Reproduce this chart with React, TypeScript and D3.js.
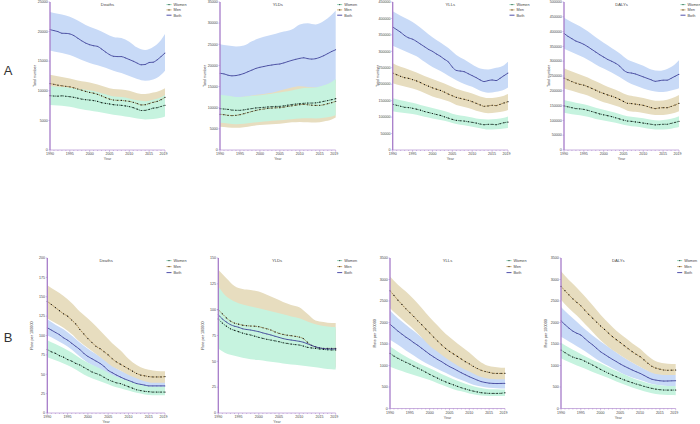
import React from 'react';
import * as d3 from 'd3';

const years = [1990,1991,1992,1993,1994,1995,1996,1997,1998,1999,2000,2001,2002,2003,2004,2005,2006,2007,2008,2009,2010,2011,2012,2013,2014,2015,2016,2017,2018,2019];
const bandYears = [1990,1992,1994,1996,1998,2000,2002,2004,2006,2008,2010,2012,2014,2016,2018,2019];
const xTickLabels = [1990,1995,2000,2005,2010,2015,2019];
const seriesNames = ['Women','Men','Both'];

// A1 Deaths (total number)
const a1BothMean = [20330,20170,20000,19720,19700,19610,19330,18890,18440,18060,17780,17610,17500,17060,16560,16110,15830,15780,15780,15560,15280,15000,14670,14390,14440,14780,14830,15220,15780,16390];
const a1BothHi = [23300,23000,22700,22200,21500,20800,20300,19700,19100,18900,18300,17300,16900,17400,18600,19600];
const a1BothLo = [16800,16500,16200,15800,15200,14700,14300,13900,13400,13000,12500,12000,11700,11900,12700,13400];
const a1MenMean = [11220,11100,10950,10850,10750,10670,10500,10300,10100,9900,9720,9600,9400,9150,8850,8610,8450,8400,8380,8300,8220,8050,7850,7610,7650,7850,8060,8200,8500,8890];
const a1MenHi = [12700,12450,12200,11900,11600,11400,11050,10650,10300,10200,10000,9600,9450,9700,10100,10450];
const a1MenLo = [9700,9500,9300,9050,8700,8350,8050,7650,7300,7200,7000,6700,6500,6700,7000,7400];
const a1WomenMean = [9170,9120,9100,9150,9080,9000,8900,8750,8600,8500,8440,8350,8200,8000,7880,7780,7650,7600,7550,7450,7330,7150,6900,6670,6700,6850,7060,7150,7350,7560];
const a1WomenHi = [10830,10700,10600,10450,10250,10100,9800,9400,9050,8950,8720,8400,8250,8500,8900,9280];
const a1WomenLo = [7600,7500,7400,7200,6900,6670,6450,6200,5950,5800,5560,5300,5170,5250,5450,5670];

// A2 YLDs (total number)
const a2BothMean = [18150,18000,17700,17530,17600,17800,18100,18500,18900,19300,19560,19750,19950,20100,20250,20340,20600,20900,21200,21450,21670,21800,21600,21500,21600,21900,22300,22800,23300,23710];
const a2BothHi = [25000,24700,24500,24700,25700,26500,27000,27500,28000,28500,29700,30000,29700,30500,32000,33000];
const a2BothLo = [12500,12300,12200,12300,12500,12700,12900,13100,13400,13700,14000,14100,14100,14500,15300,15800];
const a2MenMean = [8450,8350,8200,8140,8200,8350,8600,8850,9100,9350,9550,9700,9830,9920,9980,10020,10150,10300,10450,10600,10720,10800,10700,10600,10550,10560,10700,10950,11200,11500];
const a2MenHi = [12900,12700,12500,12600,12900,13100,13400,13800,14300,14800,15100,14900,14800,15200,16000,16600];
const a2MenLo = [5500,5350,5250,5400,5700,5900,6050,6150,6350,6550,6650,6550,6500,6750,7200,7670];
const a2WomenMean = [9780,9700,9600,9450,9400,9390,9500,9650,9800,9950,10020,10100,10180,10250,10300,10330,10450,10600,10750,10880,10950,11050,11100,11110,11150,11300,11500,11700,11900,12130];
const a2WomenHi = [13070,12800,12550,12600,12800,12950,13200,13500,13800,14100,14500,14700,14800,15300,16100,16800];
const a2WomenLo = [6420,6250,6100,6200,6450,6650,6800,6950,7100,7250,7430,7500,7450,7600,7950,8220];

// A3 YLLs (total number)
const a3BothMean = [374000,366000,358000,348000,341000,337000,330000,322000,314000,306000,300000,292000,285000,276000,268000,252000,242000,240000,238000,232000,226000,220000,213000,208000,211000,213000,211000,218000,226000,234000];
const a3BothHi = [422000,408000,396000,381000,362000,343000,327000,310000,289000,275000,260000,248000,245000,250000,258000,268000];
const a3BothLo = [317000,306000,296000,285000,268000,252000,240000,226000,212000,201000,192000,180000,174000,177000,183000,190000];
const a3MenMean = [234000,229000,224000,220000,218000,214000,210000,205000,199000,194000,189000,185000,181000,176000,170000,165000,160000,157000,154000,151000,147000,142000,137000,133000,134000,136000,135000,139000,143000,147000];
const a3MenHi = [264000,253000,245000,236000,225000,216000,207000,197000,186000,179000,172000,163000,158000,160000,165000,170000];
const a3MenLo = [203000,196000,190000,183000,173000,163000,156000,148000,137000,131000,124000,116000,112000,114000,118000,122000];
const a3WomenMean = [139000,136000,133000,130000,129000,127000,124000,121000,117000,114000,111000,108000,105000,101000,97000,93000,90000,89000,88000,86000,84000,82000,79000,77000,78000,78000,77000,80000,83000,85000];
const a3WomenHi = [157000,151000,146000,141000,134000,128000,122000,115000,107000,103000,99000,94000,93000,94000,98000,102000];
const a3WomenLo = [118000,114000,111000,107000,101000,96000,91000,86000,79000,75000,71000,66000,62000,63000,65000,67000];

// A4 DALYs (total number)
const a4BothMean = [394000,384000,376000,368000,363000,357000,349000,340000,331000,322000,314000,306000,300000,293000,284000,270000,262000,260000,257000,252000,247000,242000,237000,232000,234000,236000,236000,242000,249000,256000];
const a4BothHi = [447000,432000,418000,401000,381000,362000,345000,327000,306000,295000,285000,272000,268000,274000,290000,303000];
const a4BothLo = [342000,330000,318000,305000,289000,275000,262000,247000,230000,218000,208000,200000,196000,198000,204000,209000];
const a4MenMean = [243000,237000,231000,226000,222000,219000,214000,208000,202000,196000,191000,186000,182000,177000,171000,164000,158000,157000,155000,153000,151000,147000,143000,140000,142000,143000,143000,147000,152000,158000];
const a4MenHi = [276000,265000,255000,245000,232000,220000,209000,198000,186000,181000,176000,169000,166000,170000,179000,186000];
const a4MenLo = [208000,200000,192000,184000,172000,161000,154000,145000,133000,129000,125000,120000,118000,120000,126000,131000];
const a4WomenMean = [149000,146000,143000,140000,139000,137000,134000,130000,126000,122000,119000,116000,113000,109000,105000,101000,98000,97000,95000,93000,91000,89000,87000,85000,86000,87000,87000,90000,93000,97000];
const a4WomenHi = [169000,163000,157000,151000,143000,136000,129000,122000,114000,111000,107000,102000,100000,103000,109000,114000];
const a4WomenLo = [126000,121000,117000,112000,105000,100000,95000,89000,83000,79000,75000,71000,69000,70000,75000,78000];

// B1 Deaths (rate)
const b1MenMean = [144,140,136,132,128,125,120,115,108,102,96,91,86,83,79,75,70,66,63,60,57,54,51,49,48,47,46.5,46.5,46.5,47];
const b1MenHi = [165,158,151,142,131,122,112,101,90,81,70,62,57,55,54,54];
const b1MenLo = [122,116,110,102,92,84,76,68,60,55,49,45,41,39,39,39];
const b1BothMean = [110,107,104,101,97,94,90,86,82,77,73,70,67,64,60,55,52,49,46.5,44,42,40,38,37,36,35,35,35,35,35];
const b1BothHi = [121,114,108,100,91,83,76,69,61,55,50,46,44,43,43,43];
const b1BothLo = [100,95,89,82,73,65,59,52,45,40,36,33,31,30,30,30];
const b1WomenMean = [82,79,77,74,72,69,67,64,62,59,56,53,51,49,46,43,41,39,38,36,34,32,30,29,28,27.5,27,27,27,27];
const b1WomenHi = [94,89,84,78,71,65,60,55,49,45,42,38,35,34,34,34];
const b1WomenLo = [72,68,64,59,53,47,43,39,35,32,29,26,24,23,23,23];

// B2 YLDs (rate)
const b2MenMean = [100,96,92,89,87,86,85,84.5,84.2,84,83.5,82.5,81.5,80.3,78.5,77.1,76,75.3,74.8,74.2,73.5,72,68.5,65.5,64,63,62.5,62.5,62.5,62.5];
const b2MenHi = [138.6,130.5,123,120,119,117.6,114.5,111,107.5,104.6,102.4,96,89.5,88,87,87];
const b2MenLo = [70,64,61,59,58.5,58,56.5,54.5,53,52,51,48,45,44,44,44];
const b2BothMean = [95,91,88,85.5,84,83,81.5,80.8,80.3,79.5,78.7,77.5,76.5,75.5,74.3,73.2,72,71.2,70.6,70,69.4,68.5,67,65.5,64,63,62.3,62,62,62];
const b2BothHi = [120,111,106,103,101,99.5,97.5,95.5,93.5,91.5,89.5,86.5,84,82.5,81.5,81];
const b2BothLo = [65,60,57.5,55.5,54,53,52,51,50,49,48,47,46,45,44.5,44];
const b2WomenMean = [91,87,84,81.5,80,78.7,77.3,76.3,75.5,74.3,73.2,72.2,71.3,70.6,69.8,69,68,67.3,66.7,66.2,65.8,64.8,63.6,63,62.5,62,61.5,61.2,61,61];
const b2WomenHi = [122.4,112.7,108,105,103,101.4,99.5,97.5,95.5,93.5,91.7,88.5,86,84.2,83.2,83];
const b2WomenLo = [62.5,57.7,55.5,53.5,52,51.2,50.2,49.2,48,47,46.3,45.2,44.2,43.1,42.4,42.1];

// B3 YLLs (rate)
const b3MenMean = [2738,2630,2520,2420,2320,2230,2140,2040,1950,1850,1760,1660,1570,1480,1400,1330,1270,1210,1150,1090,1040,980,930,890,860,840,820,815,815,820];
const b3MenHi = [3072,2880,2720,2540,2340,2120,1930,1740,1590,1440,1300,1140,1020,970,950,950];
const b3MenLo = [2330,2160,2000,1840,1650,1460,1320,1180,1060,950,860,770,710,685,680,680];
const b3BothMean = [1960,1880,1800,1730,1660,1600,1530,1470,1400,1330,1260,1200,1140,1090,1030,975,930,880,830,785,740,700,660,625,605,590,583,580,583,585];
const b3BothHi = [2280,2100,1950,1800,1650,1520,1390,1270,1150,1030,920,830,760,720,705,700];
const b3BothLo = [1600,1480,1350,1230,1110,1010,920,830,740,660,590,530,495,475,468,468];
const b3WomenMean = [1283,1220,1167,1120,1075,1034,985,940,894,845,795,750,705,660,620,583,550,515,482,455,428,405,385,368,358,352,350,350,355,366];
const b3WomenHi = [1440,1320,1210,1110,1020,935,850,760,680,610,545,495,460,445,443,443];
const b3WomenLo = [970,900,840,780,720,660,590,520,450,400,350,315,295,288,288,290];

// B4 DALYs (rate)
const b4MenMean = [2840,2740,2644,2550,2470,2390,2290,2190,2100,2010,1920,1840,1755,1672,1600,1532,1460,1390,1322,1260,1206,1130,1050,980,940,915,895,890,892,895];
const b4MenHi = [3190,2990,2810,2610,2400,2180,1990,1810,1660,1520,1390,1220,1100,1050,1035,1035];
const b4MenLo = [2530,2330,2160,1970,1780,1590,1430,1300,1180,1070,970,870,800,780,778,778];
const b4BothMean = [2040,1950,1870,1800,1750,1710,1630,1550,1480,1400,1320,1260,1200,1143,1090,1034,985,940,895,855,817,770,720,680,660,645,638,640,643,646];
const b4BothHi = [2360,2180,2020,1850,1700,1560,1430,1300,1180,1070,970,880,820,790,780,778];
const b4BothLo = [1670,1560,1450,1340,1210,1090,990,890,790,720,660,600,550,530,522,521];
const b4WomenMean = [1360,1300,1244,1195,1165,1143,1100,1055,1011,960,910,865,820,778,740,700,665,630,600,570,544,515,490,467,450,438,430,428,428,430];
const b4WomenHi = [1530,1420,1320,1220,1130,1050,960,870,790,710,645,590,550,530,522,521];
const b4WomenLo = [1170,1080,1000,930,850,780,710,630,560,490,430,380,340,320,312,311];

const STYLE = {
  Women: { band: '#c6f3df', line: '#24533f', dash: '1.6,0.9', dot: '#111', legend: '#7fd0ad' },
  Men: { band: '#e7ddbf', line: '#8a6526', dash: '1.6,0.9', dot: '#111', legend: '#c9a45a' },
  Both: { band: '#c8daf7', line: '#2e2f8e', dash: '', dot: '#2e2f8e', legend: '#3c3ca0' },
};
const AXIS = '#a67cc9';
const FONT = 'Liberation Sans, Arial, sans-serif';

const panels = [
  { key: 'a1', title: 'Deaths', ylabel: 'Total number', x0: 50, x1: 165, yT: 2, yB: 150, yMax: 25000, step: 5000,
    women: [a1WomenMean, a1WomenLo, a1WomenHi], men: [a1MenMean, a1MenLo, a1MenHi], both: [a1BothMean, a1BothLo, a1BothHi] },
  { key: 'a2', title: 'YLDs', ylabel: 'Total number', x0: 220, x1: 335.7, yT: 2, yB: 150, yMax: 35000, step: 5000,
    women: [a2WomenMean, a2WomenLo, a2WomenHi], men: [a2MenMean, a2MenLo, a2MenHi], both: [a2BothMean, a2BothLo, a2BothHi] },
  { key: 'a3', title: 'YLLs', ylabel: 'Total number', x0: 392.7, x1: 508, yT: 2, yB: 150, yMax: 450000, step: 50000,
    women: [a3WomenMean, a3WomenLo, a3WomenHi], men: [a3MenMean, a3MenLo, a3MenHi], both: [a3BothMean, a3BothLo, a3BothHi] },
  { key: 'a4', title: 'DALYs', ylabel: 'Total number', x0: 564, x1: 679, yT: 2, yB: 150, yMax: 500000, step: 50000,
    women: [a4WomenMean, a4WomenLo, a4WomenHi], men: [a4MenMean, a4MenLo, a4MenHi], both: [a4BothMean, a4BothLo, a4BothHi] },
  { key: 'b1', title: 'Deaths', ylabel: 'Rate per 100000', x0: 47.3, x1: 165, yT: 258, yB: 413, yMax: 200, step: 25,
    women: [b1WomenMean, b1WomenLo, b1WomenHi], men: [b1MenMean, b1MenLo, b1MenHi], both: [b1BothMean, b1BothLo, b1BothHi] },
  { key: 'b2', title: 'YLDs', ylabel: 'Rate per 100000', x0: 218.3, x1: 335.7, yT: 258, yB: 413, yMax: 150, step: 25,
    women: [b2WomenMean, b2WomenLo, b2WomenHi], men: [b2MenMean, b2MenLo, b2MenHi], both: [b2BothMean, b2BothLo, b2BothHi] },
  { key: 'b3', title: 'YLLs', ylabel: 'Rate per 100000', x0: 390, x1: 505, yT: 258, yB: 408.5, yMax: 3500, step: 500,
    women: [b3WomenMean, b3WomenLo, b3WomenHi], men: [b3MenMean, b3MenLo, b3MenHi], both: [b3BothMean, b3BothLo, b3BothHi] },
  { key: 'b4', title: 'DALYs', ylabel: 'Rate per 100000', x0: 561, x1: 675.7, yT: 258, yB: 408.5, yMax: 3500, step: 500,
    women: [b4WomenMean, b4WomenLo, b4WomenHi], men: [b4MenMean, b4MenLo, b4MenHi], both: [b4BothMean, b4BothLo, b4BothHi] },
];

function Panel({ p }: { p: any }) {
  const x = d3.scaleLinear().domain([1990, 2019]).range([p.x0, p.x1]);
  const y = d3.scaleLinear().domain([0, p.yMax]).range([p.yB, p.yT]);
  const area = d3.area<number>()
    .x((_, i) => x(bandYears[i]))
    .curve(d3.curveMonotoneX);
  const line = d3.line<number>()
    .x((_, i) => x(years[i]))
    .y((d) => y(d))
    .curve(d3.curveMonotoneX);
  const series: [string, number[][]][] = [['Both', p.both], ['Men', p.men], ['Women', p.women]];
  const yTicks = d3.range(0, p.yMax + p.step / 2, p.step);
  const cx = (p.x0 + p.x1) / 2;
  const cy = (p.yT + p.yB) / 2;
  return (
    <g>
      {series.map(([name, arr]) => {
        const lo = arr[1], hi = arr[2];
        const a = d3.area<number>()
          .x((_, i) => x(bandYears[i]))
          .y0((_, i) => y(lo[i]))
          .y1((_, i) => y(hi[i]))
          .curve(d3.curveMonotoneX);
        return <path key={'b' + name} d={a(lo) || ''} fill={(STYLE as any)[name].band} stroke="none" />;
      })}
      {series.slice().reverse().map(([name, arr]) => {
        const st = (STYLE as any)[name];
        return (
          <g key={'l' + name}>
            <path d={line(arr[0]) || ''} fill="none" stroke={st.line} strokeWidth={0.75} strokeDasharray={st.dash || undefined} />
            {arr[0].map((v, i) => (
              <circle key={i} cx={x(years[i])} cy={y(v)} r={name === 'Both' ? 0.45 : 0.6} fill={st.dot} />
            ))}
          </g>
        );
      })}
      {/* y axis */}
      <line x1={p.x0} x2={p.x0} y1={p.yT} y2={p.yB} stroke={AXIS} strokeWidth={1.3} />
      {yTicks.map((t) => (
        <g key={'yt' + t}>
          <line x1={p.x0 - 1.5} x2={p.x0} y1={y(t)} y2={y(t)} stroke={AXIS} strokeWidth={0.5} />
          <text x={p.x0 - 2.2} y={y(t)} dy="0.35em" textAnchor="end" fontSize={3.6} fill="#444" fontFamily={FONT}>{t}</text>
        </g>
      ))}
      {/* x axis */}
      <line x1={p.x0} x2={p.x1} y1={p.yB} y2={p.yB} stroke={AXIS} strokeWidth={0.6} />
      {years.map((yr) => (
        <line key={'xm' + yr} x1={x(yr)} x2={x(yr)} y1={p.yB} y2={p.yB + (xTickLabels.includes(yr) ? 1.8 : 1)} stroke={AXIS} strokeWidth={0.5} />
      ))}
      {xTickLabels.map((yr) => (
        <text key={'xl' + yr} x={yr === 2019 ? x(yr) - 1.5 : x(yr)} y={p.yB + 5.2} textAnchor="middle" fontSize={3.6} fill="#444" fontFamily={FONT}>{yr}</text>
      ))}
      <text x={cx} y={p.yB + 10} textAnchor="middle" fontSize={3.6} fill="#555" fontFamily={FONT}>Year</text>
      <text transform={`translate(${p.x0 - 14},${cy}) rotate(-90)`} textAnchor="middle" fontSize={3.8} fill="#444" fontFamily={FONT}>{p.ylabel}</text>
      <text x={cx} y={p.yT + 3.5} textAnchor="middle" fontSize={4.2} fill="#444" fontFamily={FONT}>{p.title}</text>
      {/* legend */}
      {seriesNames.map((name, i) => {
        const st = (STYLE as any)[name];
        const ly = p.yT + 2.6 + i * (p.yT > 100 ? 6 : 5.3);
        const lx = p.x1 + 1.5;
        return (
          <g key={'lg' + name}>
            <line x1={lx} x2={lx + 5} y1={ly} y2={ly} stroke={st.legend} strokeWidth={0.9} />
            {name !== 'Both' && <circle cx={lx + 2.5} cy={ly} r={0.6} fill="#333" />}
            <text x={lx + 7} y={ly} dy="0.35em" fontSize={3.8} fill="#444" fontFamily={FONT}>{name}</text>
          </g>
        );
      })}
    </g>
  );
}

export default function App() {
  return (
    <svg width={700} height={424} style={{ position: 'absolute', left: 0, top: 0, background: '#fff' }}>
      <rect x={0} y={0} width={700} height={424} fill="#fff" />
      {panels.map((p) => <Panel key={p.key} p={p} />)}
      <text x={8} y={75} textAnchor="middle" fontSize={13} fill="#333" fontFamily={FONT}>A</text>
      <text x={8} y={342} textAnchor="middle" fontSize={13} fill="#333" fontFamily={FONT}>B</text>
    </svg>
  );
}
